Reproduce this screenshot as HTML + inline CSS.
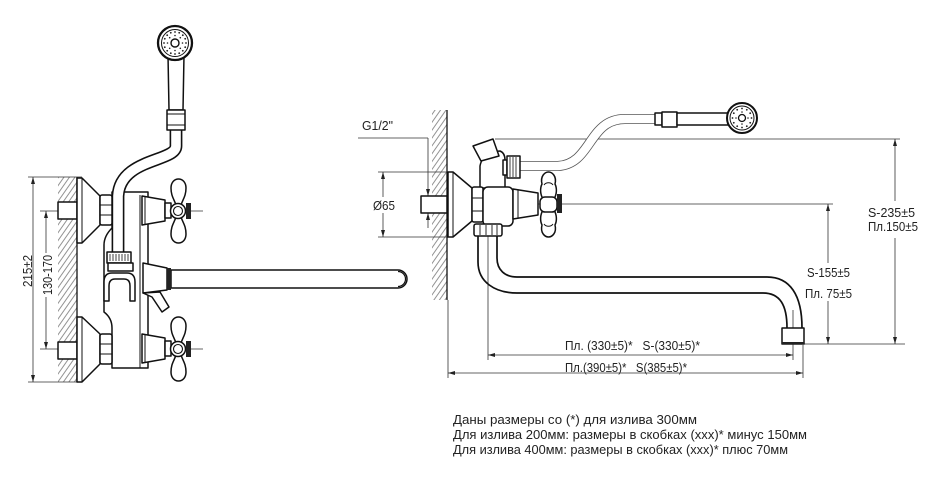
<!DOCTYPE html>
<html><head><meta charset="utf-8"><style>
html,body{margin:0;padding:0;background:#fff;}
svg{display:block;}
text{font-family:"Liberation Sans",sans-serif;fill:#222;}
</style></head><body>
<svg width="940" height="480" viewBox="0 0 940 480" xmlns="http://www.w3.org/2000/svg">
<defs>
<pattern id="h" width="4.5" height="20" patternUnits="userSpaceOnUse" patternTransform="rotate(35)"><line x1="1" y1="0" x2="1" y2="20" stroke="#777" stroke-width="0.8"/></pattern>
</defs>

<!-- ================= LEFT VIEW ================= -->
<rect x="58" y="177" width="19" height="205" fill="url(#h)"/>
<line x1="77" y1="177" x2="77" y2="382" stroke="#111" stroke-width="1.3"/>

<g stroke="#333" stroke-width="0.8" fill="none">
<line x1="28" y1="177" x2="82" y2="177"/>
<line x1="28" y1="382" x2="82" y2="382"/>
<line x1="33" y1="177" x2="33" y2="382"/>
<line x1="46" y1="211" x2="46" y2="253"/>
<line x1="46" y1="297" x2="46" y2="349"/>
<line x1="40" y1="211" x2="203" y2="211"/>
<line x1="40" y1="349" x2="203" y2="349"/>
</g>
<g fill="#222">
<polygon points="33,177 31,184 35,184"/>
<polygon points="33,382 31,375 35,375"/>
<polygon points="46,211 44,218 48,218"/>
<polygon points="46,349 44,342 48,342"/>
</g>
<text transform="translate(32,271) rotate(-90)" font-size="12.5" text-anchor="middle" textLength="32" lengthAdjust="spacingAndGlyphs">215±2</text>
<text transform="translate(52,275) rotate(-90)" font-size="12.5" text-anchor="middle" textLength="40" lengthAdjust="spacingAndGlyphs">130-170</text>

<g stroke="#111" stroke-width="1.5" fill="#fff" stroke-linejoin="round">
<rect x="58" y="202" width="19" height="17"/>
<rect x="58" y="342" width="19" height="17"/>
<path d="M77,178 L82,178 L100,196 L100,225 L82,243 L77,243 Z"/>
<line x1="82" y1="178" x2="82" y2="243" stroke-width="1"/>
<path d="M77,317 L82,317 L100,334 L100,364 L82,382 L77,382 Z"/>
<line x1="82" y1="317" x2="82" y2="382" stroke-width="1"/>
<path d="M112,192 L148,192 L148,368 L112,368 L112,328 Q112,318 104,312 L104,245 Q104,236 112,228 Z"/>
<line x1="140" y1="195" x2="140" y2="368" stroke-width="1"/>
<rect x="100" y="195" width="12" height="30" rx="2"/>
<line x1="100" y1="205" x2="112" y2="205" stroke-width="1"/>
<line x1="100" y1="215" x2="112" y2="215" stroke-width="1"/>
<rect x="100" y="334" width="12" height="30" rx="2"/>
<line x1="100" y1="344" x2="112" y2="344" stroke-width="1"/>
<line x1="100" y1="354" x2="112" y2="354" stroke-width="1"/>
</g>

<path d="M176,130 L176,146 C176,162 120,158 118,196 L118,253" fill="none" stroke="#111" stroke-width="12.8"/>
<path d="M176,129 L176,146 C176,162 120,158 118,196 L118,254" fill="none" stroke="#fff" stroke-width="9.6"/>

<g stroke="#111" stroke-width="1.5" fill="#fff" stroke-linejoin="round">
<path d="M168,55 L184,55 L183,110 L169,110 Z"/>
<rect x="167" y="110" width="18" height="20"/>
<line x1="167" y1="114" x2="185" y2="114" stroke-width="1"/>
<line x1="167" y1="125" x2="185" y2="125" stroke-width="1"/>
<circle cx="175" cy="43" r="17" stroke-width="2.3"/>
<circle cx="175" cy="43" r="13.5" stroke-width="1"/>
<circle cx="175" cy="43" r="4" stroke-width="1.4"/>
</g>
<g fill="#222">
<circle cx="186" cy="43" r="0.9"/><circle cx="185.2" cy="47.2" r="0.9"/><circle cx="182.8" cy="50.8" r="0.9"/><circle cx="179.2" cy="53.2" r="0.9"/><circle cx="175" cy="54" r="0.9"/><circle cx="170.8" cy="53.2" r="0.9"/><circle cx="167.2" cy="50.8" r="0.9"/><circle cx="164.8" cy="47.2" r="0.9"/><circle cx="164" cy="43" r="0.9"/><circle cx="164.8" cy="38.8" r="0.9"/><circle cx="167.2" cy="35.2" r="0.9"/><circle cx="170.8" cy="32.8" r="0.9"/><circle cx="175" cy="32" r="0.9"/><circle cx="179.2" cy="32.8" r="0.9"/><circle cx="182.8" cy="35.2" r="0.9"/><circle cx="185.2" cy="38.8" r="0.9"/>
<circle cx="182.5" cy="43" r="0.8"/><circle cx="180.3" cy="48.3" r="0.8"/><circle cx="175" cy="50.5" r="0.8"/><circle cx="169.7" cy="48.3" r="0.8"/><circle cx="167.5" cy="43" r="0.8"/><circle cx="169.7" cy="37.7" r="0.8"/><circle cx="175" cy="35.5" r="0.8"/><circle cx="180.3" cy="37.7" r="0.8"/>
</g>

<g stroke="#111" stroke-width="1.5" fill="#fff" stroke-linejoin="round">
<rect x="107" y="252" width="24" height="11"/>
<g stroke-width="0.8"><line x1="110" y1="254" x2="110" y2="261"/><line x1="113" y1="254" x2="113" y2="261"/><line x1="116" y1="254" x2="116" y2="261"/><line x1="119" y1="254" x2="119" y2="261"/><line x1="122" y1="254" x2="122" y2="261"/><line x1="125" y1="254" x2="125" y2="261"/><line x1="128" y1="254" x2="128" y2="261"/></g>
<rect x="108" y="263" width="25" height="8"/>
<path d="M104,301 L104,282 Q104,273 112,273 L127,273 Q135,273 135,282 L135,301 L130,301 L130,286 Q130,279 124,279 L115,279 Q109,279 109,286 L109,301 Z"/>
<path d="M142,196 L165,200 L165,221 L142,225 Z"/>
<line x1="145" y1="197" x2="145" y2="224" stroke-width="1"/>
<rect x="165" y="203" width="6" height="15"/>
<path d="M176,205 C174,199 171,196 171,188 C171,176 186,176 186,188 C186,196 183,199 181,205 Z"/>
<path d="M176,217 C174,223 171,226 171,234 C171,246 186,246 186,234 C186,226 183,223 181,217 Z"/>
<circle cx="178" cy="211" r="7.5"/>
<circle cx="178" cy="211" r="4.5" stroke-width="1.1"/>
<path d="M142,334 L165,338 L165,359 L142,363 Z"/>
<line x1="145" y1="335" x2="145" y2="362" stroke-width="1"/>
<rect x="165" y="341" width="6" height="15"/>
<path d="M176,343 C174,337 171,334 171,326 C171,314 186,314 186,326 C186,334 183,337 181,343 Z"/>
<path d="M176,355 C174,361 171,364 171,372 C171,384 186,384 186,372 C186,364 183,361 181,355 Z"/>
<circle cx="178" cy="349" r="7.5"/>
<circle cx="178" cy="349" r="4.5" stroke-width="1.1"/>
<path d="M143,263 L167,268 L167,290 L143,293 Z"/>
<path d="M171,270 L398,270 A9,9 0 0 1 398,288 L171,288 Z"/>
<path d="M398,271.5 A7.5,7.5 0 0 1 398,286.5" fill="none" stroke-width="1.2"/>
<path d="M143,293 L152,297 L162,312 L169,307 L160,292 Z"/>
</g>
<g fill="#222">
<rect x="186" y="203" width="5" height="16"/>
<rect x="186" y="341" width="5" height="16"/>
<rect x="167" y="268" width="4" height="22"/>
</g>

<!-- ================= RIGHT VIEW ================= -->
<rect x="432" y="110" width="15" height="190" fill="url(#h)"/>
<line x1="447" y1="110" x2="447" y2="300" stroke="#111" stroke-width="1.3"/>
<line x1="448" y1="300" x2="448" y2="378" stroke="#333" stroke-width="0.8"/>

<g stroke="#333" stroke-width="0.8" fill="none">
<line x1="358" y1="138" x2="428" y2="138"/>
<line x1="428" y1="138" x2="428" y2="196"/>
<line x1="428" y1="213" x2="428" y2="228"/>
<line x1="378" y1="172" x2="447" y2="172"/>
<line x1="378" y1="237" x2="447" y2="237"/>
<line x1="383" y1="172" x2="383" y2="197"/>
<line x1="383" y1="213" x2="383" y2="237"/>
<line x1="440" y1="204" x2="833" y2="204"/>
<line x1="495" y1="139" x2="900" y2="139"/>
<line x1="800" y1="344" x2="905" y2="344"/>
<line x1="895" y1="139" x2="895" y2="201"/>
<line x1="895" y1="238" x2="895" y2="344"/>
<line x1="828" y1="204" x2="828" y2="263"/>
<line x1="828" y1="301" x2="828" y2="344"/>
<line x1="488" y1="187" x2="488" y2="360"/>
<line x1="793" y1="310" x2="793" y2="360"/>
<line x1="803" y1="345" x2="803" y2="378"/>
<line x1="488" y1="355" x2="793" y2="355"/>
<line x1="448" y1="373" x2="803" y2="373"/>
</g>
<g fill="#222">
<polygon points="428,196 426,189 430,189"/>
<polygon points="428,213 426,220 430,220"/>
<polygon points="383,172 381,179 385,179"/>
<polygon points="383,237 381,230 385,230"/>
<polygon points="895,139 893,146 897,146"/>
<polygon points="895,344 893,337 897,337"/>
<polygon points="828,204 826,211 830,211"/>
<polygon points="828,344 826,337 830,337"/>
<polygon points="488,355 495,353 495,357"/>
<polygon points="793,355 786,353 786,357"/>
<polygon points="448,373 455,371 455,375"/>
<polygon points="803,373 796,371 796,375"/>
</g>

<path d="M518,166 L558,166 C592,164 588,119 625,119 L658,119" fill="none" stroke="#555" stroke-width="10"/>
<path d="M517,166 L558,166 C592,164 588,119 625,119 L659,119" fill="none" stroke="#fff" stroke-width="8.4"/>

<g stroke="#111" stroke-width="1.5" fill="#fff" stroke-linejoin="round">
<rect x="421" y="196" width="26" height="17"/>
<path d="M448,172 L453,172 L472,188 L472,221 L453,237 L448,237 Z"/>
<line x1="453" y1="172" x2="453" y2="237" stroke-width="1"/>
<path d="M478,236 L478,262 C478,282 495,293 517,293 L763,293 C780,293 787,305 787,328" fill="none" stroke-width="1.7"/>
<path d="M497,236 L497,258 C497,270 505,277 517,277 L767,277 C790,277 802,295 802,328" fill="none" stroke-width="1.7"/>
<rect x="782" y="328" width="22" height="16"/>
<path d="M480,188 L480,166 Q482,156 490,152 L500,151 Q505,153 505,160 L505,188 Z"/>
<polygon points="473,146 493,139 499,156 481,161"/>
<rect x="503" y="160" width="4" height="15"/>
<rect x="507" y="156" width="13" height="22"/>
<g stroke-width="0.8"><line x1="510" y1="157" x2="510" y2="177"/><line x1="513" y1="157" x2="513" y2="177"/><line x1="516" y1="157" x2="516" y2="177"/></g>
<rect x="472" y="187" width="11" height="35" rx="2"/>
<line x1="472" y1="198" x2="483" y2="198" stroke-width="1"/>
<line x1="472" y1="211" x2="483" y2="211" stroke-width="1"/>
<rect x="483" y="187" width="30" height="39" rx="5"/>
<rect x="474" y="224" width="28" height="12" rx="2"/>
<g stroke-width="0.9"><line x1="480" y1="225" x2="480" y2="235"/><line x1="486" y1="225" x2="486" y2="235"/><line x1="492" y1="225" x2="492" y2="235"/><line x1="497" y1="225" x2="497" y2="235"/></g>
<path d="M513,189 L538,193 L538,215 L513,219 Z"/>
<line x1="518" y1="190" x2="518" y2="218" stroke-width="1"/>
<path d="M543,199 C540,194 540,188 542,184 C540,176 545,172 548.5,172 C552,172 557,176 555,184 C557,188 557,194 554,199 Z"/>
<path d="M544,185 C546,182 551,182 553,185" fill="none" stroke-width="1"/>
<path d="M543,210 C540,215 540,221 542,225 C540,233 545,237 548.5,237 C552,237 557,233 555,225 C557,221 557,215 554,210 Z"/>
<path d="M544,224 C546,227 551,227 553,224" fill="none" stroke-width="1"/>
<rect x="540" y="197" width="17" height="15" rx="5"/>
<rect x="655" y="113" width="7" height="12"/>
<rect x="662" y="112" width="15" height="15"/>
<rect x="677" y="113" width="51" height="12"/>
<circle cx="742" cy="118" r="15" stroke-width="2"/>
<circle cx="742" cy="118" r="12" stroke-width="1"/>
<circle cx="742" cy="118" r="3.5" stroke-width="1.3"/>
</g>
<g fill="#222">
<rect x="557" y="194" width="5" height="19"/>
<rect x="782" y="342" width="22" height="2.5"/>
<circle cx="751.5" cy="118" r="0.9"/><circle cx="750.2" cy="122.8" r="0.9"/><circle cx="746.8" cy="126.2" r="0.9"/><circle cx="742" cy="127.5" r="0.9"/><circle cx="737.2" cy="126.2" r="0.9"/><circle cx="733.8" cy="122.8" r="0.9"/><circle cx="732.5" cy="118" r="0.9"/><circle cx="733.8" cy="113.2" r="0.9"/><circle cx="737.2" cy="109.8" r="0.9"/><circle cx="742" cy="108.5" r="0.9"/><circle cx="746.8" cy="109.8" r="0.9"/><circle cx="750.2" cy="113.2" r="0.9"/>
<circle cx="748" cy="118" r="0.8"/><circle cx="742" cy="124" r="0.8"/><circle cx="736" cy="118" r="0.8"/><circle cx="742" cy="112" r="0.8"/>
</g>

<text x="362" y="130" font-size="12.5" textLength="31" lengthAdjust="spacingAndGlyphs">G1/2"</text>
<text x="373" y="210" font-size="12.5" textLength="22" lengthAdjust="spacingAndGlyphs">Ø65</text>
<text x="868" y="217" font-size="12.5" textLength="47" lengthAdjust="spacingAndGlyphs">S-235±5</text>
<text x="868" y="231" font-size="12.5" textLength="50" lengthAdjust="spacingAndGlyphs">Пл.150±5</text>
<text x="807" y="277" font-size="12.5" textLength="43" lengthAdjust="spacingAndGlyphs">S-155±5</text>
<text x="805" y="298" font-size="12.5" textLength="47" lengthAdjust="spacingAndGlyphs">Пл. 75±5</text>
<text x="565" y="350" font-size="12.5" textLength="135" lengthAdjust="spacingAndGlyphs" xml:space="preserve">Пл. (330±5)*   S-(330±5)*</text>
<text x="565" y="372" font-size="12.5" textLength="122" lengthAdjust="spacingAndGlyphs" xml:space="preserve">Пл.(390±5)*   S(385±5)*</text>

<text x="453" y="424" font-size="13" textLength="244" lengthAdjust="spacingAndGlyphs">Даны размеры со (*) для излива 300мм</text>
<text x="453" y="439" font-size="13" textLength="354" lengthAdjust="spacingAndGlyphs">Для излива 200мм: размеры в скобках (ххх)* минус 150мм</text>
<text x="453" y="454" font-size="13" textLength="335" lengthAdjust="spacingAndGlyphs">Для излива 400мм: размеры в скобках (ххх)* плюс 70мм</text>
</svg>
</body></html>
